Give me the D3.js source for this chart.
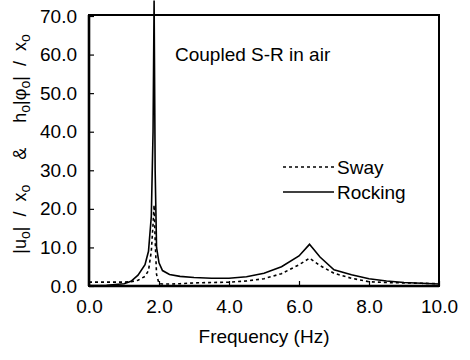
<!DOCTYPE html>
<html><head><meta charset="utf-8">
<script src="https://cdn.jsdelivr.net/npm/d3@7/dist/d3.min.js"></script>
<style>body{margin:0;background:#fff}svg{display:block}text{font-family:"Liberation Sans",Arial,Helvetica,sans-serif;fill:#000}</style>
</head><body><svg id="c" width="470" height="360"></svg>
<script>
const freq    = [0, 0.5, 1.0, 1.2, 1.4, 1.6, 1.7, 1.78, 1.83, 1.86, 1.89, 1.93, 2.0, 2.1, 2.3, 2.6, 3.0, 3.5, 4.0, 4.5, 5.0, 5.5, 6.0, 6.3, 6.6, 7.0, 7.5, 8.0, 8.5, 9.0, 9.5, 10.0];
const rocking = [0.1, 0.2, 0.6, 1.2, 2.8, 5.5, 9, 18, 40, 74, 30, 10, 6.0, 4.0, 3.0, 2.5, 2.2, 2.0, 2.0, 2.4, 3.3, 5.0, 7.8, 10.8, 7.5, 4.2, 2.9, 1.9, 1.3, 0.9, 0.7, 0.5];
const sway    = [1.0, 1.0, 1.0, 1.1, 1.5, 2.5, 4, 9, 16, 21, 12, 3, 0.6, 0.5, 0.5, 0.6, 0.8, 0.9, 1.0, 1.3, 1.9, 3.2, 5.5, 7.2, 5.3, 3.3, 2.0, 1.1, 0.9, 0.8, 0.7, 0.6];
const xTicks  = [0, 2, 4, 6, 8, 10];
const yTicks  = [0, 10, 20, 30, 40, 50, 60, 70];
const seriesNames = ["Sway", "Rocking"];
const annotation = "Coupled S-R in air";
const xTitle = "Frequency (Hz)";

const svg = d3.select("#c");
const L = 89, R = 439, T = 15, B = 286;
const x = d3.scaleLinear().domain([0, 10]).range([L, R]);
const y = d3.scaleLinear().domain([0, 70]).range([B, 16]);
const fmt = d3.format(".1f");

// frame
svg.append("rect").attr("x", L).attr("y", T).attr("width", R - L).attr("height", B - T)
  .attr("fill", "none").attr("stroke", "#000").attr("stroke-width", 2);
svg.append("line").attr("x1", L).attr("x2", L).attr("y1", T).attr("y2", B).attr("stroke", "#000").attr("stroke-width", 2.6);
svg.append("line").attr("x1", L).attr("x2", R).attr("y1", B).attr("y2", B).attr("stroke", "#000").attr("stroke-width", 2.6);

// x axis (inward ticks)
const xa = svg.append("g").attr("transform", `translate(0,${B})`)
  .call(d3.axisBottom(x).tickValues(xTicks).tickSizeInner(-5).tickSizeOuter(0).tickPadding(14).tickFormat(fmt));
xa.select(".domain").remove();
xa.selectAll("line").attr("stroke", "#000").attr("stroke-width", 1.2);
xa.selectAll("text").attr("font-size", 19).attr("font-family", "Liberation Sans, Arial, sans-serif").attr("dy", "0.71em");

const ya = svg.append("g").attr("transform", `translate(${L},0)`)
  .call(d3.axisLeft(y).tickValues(yTicks).tickSizeInner(-5).tickSizeOuter(0).tickPadding(12).tickFormat(fmt));
ya.select(".domain").remove();
ya.selectAll("line").attr("stroke", "#000").attr("stroke-width", 1.2);
ya.selectAll("text").attr("font-size", 19).attr("font-family", "Liberation Sans, Arial, sans-serif");

// lines
const data = freq.map((f, i) => ({f, r: rocking[i], s: sway[i]}));
svg.append("path").datum(data).attr("fill", "none").attr("stroke", "#000").attr("stroke-width", 1.6)
  .attr("d", d3.line().x(d => x(d.f)).y(d => y(d.r)));
svg.append("path").datum(data).attr("fill", "none").attr("stroke", "#000").attr("stroke-width", 1.6)
  .attr("stroke-dasharray", "3,3")
  .attr("d", d3.line().x(d => x(d.f)).y(d => y(d.s)));

// annotation
svg.append("text").attr("x", 175).attr("y", 61).attr("font-size", 19).text(annotation);

// legend
const lg = [{n: seriesNames[0], dash: "3,3", yy: 167}, {n: seriesNames[1], dash: null, yy: 192}];
lg.forEach(d => {
  svg.append("line").attr("x1", 283).attr("x2", 334).attr("y1", d.yy).attr("y2", d.yy)
    .attr("stroke", "#000").attr("stroke-width", 1.6).attr("stroke-dasharray", d.dash);
  svg.append("text").attr("x", 337).attr("y", d.yy).attr("dy", "0.35em").attr("font-size", 19).text(d.n);
});

// x title
svg.append("text").attr("x", (L + R) / 2).attr("y", 343).attr("text-anchor", "middle").attr("font-size", 19).text(xTitle);

// y title
const yt = svg.append("text").attr("transform", "translate(26,144) rotate(-90)").attr("text-anchor", "middle")
  .attr("font-size", 18).attr("style", "white-space:pre");
const parts = [["|u",0],["o",1],["|  /  x",0],["o",1],["     &     h",0],["o",1],["|φ",0],["o",1],["|  /  x",0],["o",1]];
parts.forEach((p, i) => {
  const prev = i > 0 ? parts[i-1][1] : 0;
  const t = yt.append("tspan").text(p[0]);
  if (p[1]) t.attr("font-size", 14);
  t.attr("dy", p[1] && !prev ? 4 : (!p[1] && prev ? -4 : 0));
});
</script></body></html>
